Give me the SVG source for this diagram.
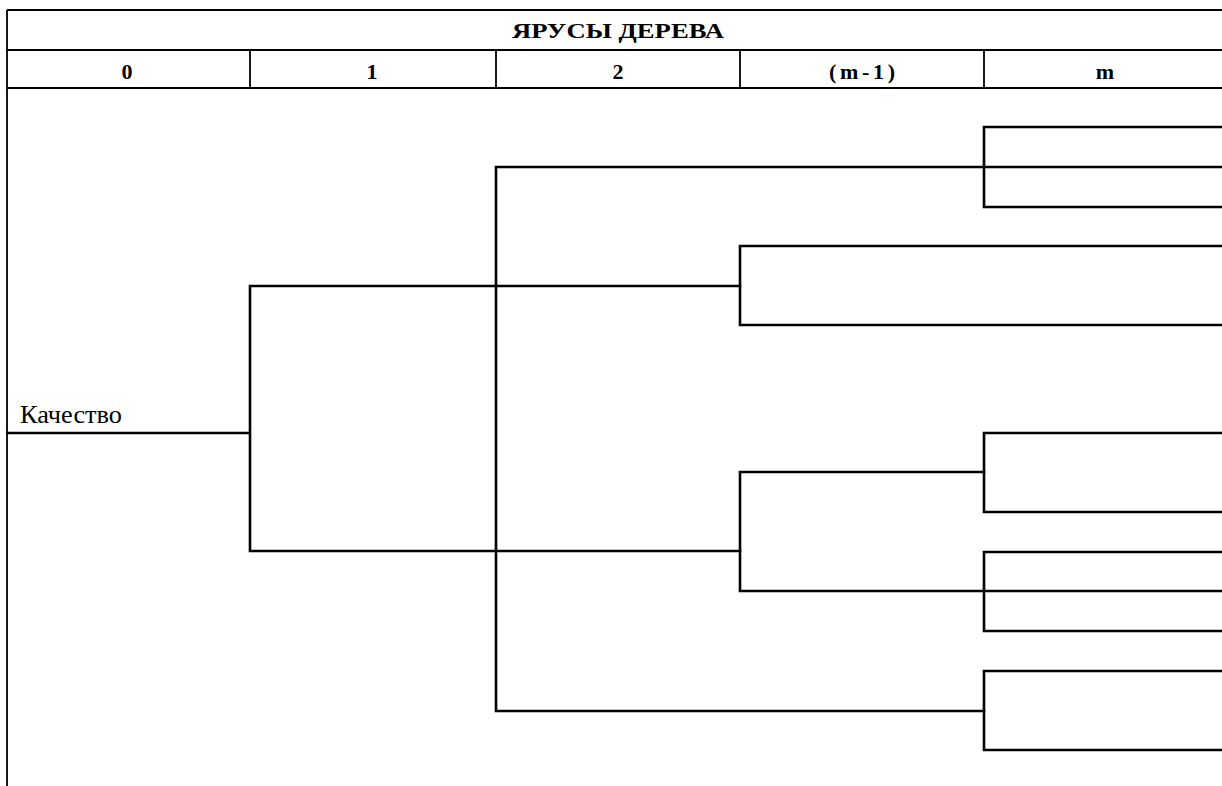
<svg xmlns="http://www.w3.org/2000/svg" width="1222" height="786" viewBox="0 0 1222 786">
<style>
.grid{stroke:#000;stroke-width:1.8;fill:none}
.ln{stroke:#000;stroke-width:2.6;fill:none;stroke-linecap:square}
.hd{font-weight:bold;font-size:22px;text-anchor:middle;fill:#000}
.lb{font-size:25px;fill:#000}
</style>
<rect width="1222" height="786" fill="#fff"/>
<g id="table">
<path class="grid" d="M7,10 H1222 M7,50 H1222 M7,88 H1222 M7,10 V786 M250,50 V88 M496,50 V88 M740,50 V88 M984,50 V88"/>
<text class="hd" font-family="'Liberation Serif', 'DejaVu Serif', serif" x="618" y="38" font-size="24" textLength="212" lengthAdjust="spacingAndGlyphs">ЯРУСЫ ДЕРЕВА</text>
<text class="hd" font-family="'Liberation Serif', 'DejaVu Serif', serif" x="127" y="79">0</text>
<text class="hd" font-family="'Liberation Serif', 'DejaVu Serif', serif" x="372" y="79">1</text>
<text class="hd" font-family="'Liberation Serif', 'DejaVu Serif', serif" x="618" y="79">2</text>
<text class="hd" font-family="'Liberation Serif', 'DejaVu Serif', serif" x="862" y="79" textLength="66" lengthAdjust="spacing">(m-1)</text>
<text class="hd" font-family="'Liberation Serif', 'DejaVu Serif', serif" x="1105" y="79">m</text>
</g>
<g id="root">
<text class="lb" font-family="'Liberation Serif', 'DejaVu Serif', serif" x="20" y="423" textLength="102" lengthAdjust="spacingAndGlyphs">Качество</text>
</g>
<g id="connectors">
<path class="ln" d="M8,433 H250 M250,286 V551 M250,286 H740 M250,551 H740"/>
<path class="ln" d="M740,246 V325 M740,246 H1222 M740,325 H1222"/>
<path class="ln" d="M740,472 V591 M740,472 H984 M740,591 H1222"/>
<path class="ln" d="M496,167 V711 M496,167 H1222 M496,711 H984"/>
<path class="ln" d="M984,127 V207 M984,127 H1222 M984,207 H1222"/>
<path class="ln" d="M984,433 V512 M984,433 H1222 M984,512 H1222"/>
<path class="ln" d="M984,552 V631 M984,552 H1222 M984,631 H1222"/>
<path class="ln" d="M984,671 V750 M984,671 H1222 M984,750 H1222"/>
</g>
</svg>
